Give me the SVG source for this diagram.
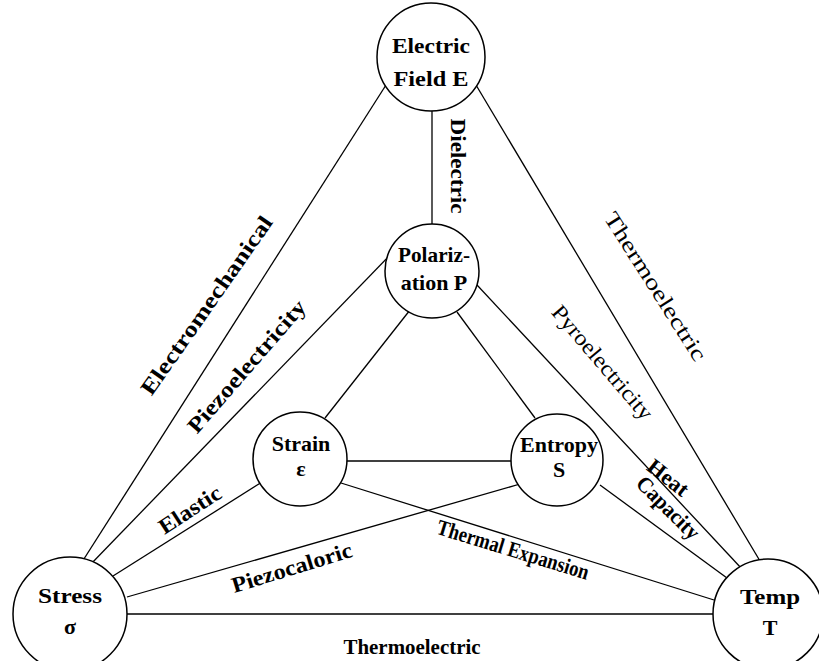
<svg xmlns="http://www.w3.org/2000/svg" width="819" height="661" viewBox="0 0 819 661">
<style>
.n{fill:#fff;stroke:#000;stroke-width:1.5}
.e{stroke:#000;stroke-width:1.3;fill:none}
.t{font-family:"Liberation Serif","Times New Roman",serif;font-weight:bold;font-size:22px;text-anchor:middle;fill:#000}
.r{font-weight:normal}
</style>
<rect width="819" height="661" fill="#fff"/>
<g id="connectors">
<line class="e" x1="386" y1="85" x2="82" y2="562"/>
<line class="e" x1="476" y1="85" x2="760" y2="561"/>
<line class="e" x1="432" y1="111" x2="432" y2="225"/>
<line class="e" x1="392" y1="253" x2="90" y2="565"/>
<line class="e" x1="477" y1="285" x2="742" y2="569"/>
<line class="e" x1="410" y1="310" x2="325" y2="418"/>
<line class="e" x1="457" y1="312" x2="535" y2="418"/>
<line class="e" x1="347" y1="461" x2="512" y2="461"/>
<line class="e" x1="262" y1="482" x2="113" y2="576"/>
<line class="e" x1="520" y1="484" x2="127" y2="597"/>
<line class="e" x1="341" y1="483" x2="714" y2="600"/>
<line class="e" x1="600" y1="485" x2="727" y2="578"/>
<line class="e" x1="127" y1="614" x2="713" y2="614"/>
</g>
<g id="edge-labels">
<text class="t" transform="translate(206,305) rotate(-55)" y="8" font-size="25" textLength="213" lengthAdjust="spacingAndGlyphs">Electromechanical</text>
<text class="t" transform="translate(246,366) rotate(-49)" y="8" font-size="24" textLength="168" lengthAdjust="spacingAndGlyphs">Piezoelectricity</text>
<text class="t r" transform="translate(656,286) rotate(57.6)" y="8" font-size="25" textLength="172" lengthAdjust="spacingAndGlyphs">Thermoelectric</text>
<text class="t r" transform="translate(603,362) rotate(49.5)" y="8" font-size="24" textLength="143" lengthAdjust="spacingAndGlyphs">Pyroelectricity</text>
<text class="t" transform="translate(459,166) rotate(90)" y="8" font-size="23" textLength="95" lengthAdjust="spacingAndGlyphs">Dielectric</text>
<text class="t" transform="translate(190,510) rotate(-33)" y="7" textLength="70" lengthAdjust="spacingAndGlyphs">Elastic</text>
<text class="t" transform="translate(292,568) rotate(-17)" y="7" textLength="125" lengthAdjust="spacingAndGlyphs">Piezocaloric</text>
<text class="t" transform="translate(513,550) rotate(17)" y="7" textLength="158" lengthAdjust="spacingAndGlyphs">Thermal Expansion</text>
<text class="t" transform="translate(668,478) rotate(38)" y="7" textLength="46" lengthAdjust="spacingAndGlyphs">Heat</text>
<text class="t" transform="translate(668,508) rotate(45)" y="7" textLength="80" lengthAdjust="spacingAndGlyphs">Capacity</text>
<text class="t" x="412" y="654" font-size="26" textLength="137" lengthAdjust="spacingAndGlyphs">Thermoelectric</text>
</g>
<g id="node-E">
<circle class="n" cx="431" cy="57" r="54"/>
<text class="t" x="431" y="53" font-size="28" textLength="78" lengthAdjust="spacingAndGlyphs">Electric</text>
<text class="t" x="431" y="86" font-size="28" textLength="75" lengthAdjust="spacingAndGlyphs">Field E</text>
</g>
<g id="node-P">
<circle class="n" cx="432" cy="271" r="47"/>
<text class="t" x="434" y="262" font-size="21" textLength="72" lengthAdjust="spacingAndGlyphs">Polariz-</text>
<text class="t" x="434" y="290" font-size="21">ation P</text>
</g>
<g id="node-strain">
<circle class="n" cx="300" cy="459" r="47"/>
<text class="t" x="301" y="451">Strain</text>
<text class="t" x="301" y="476">ε</text>
</g>
<g id="node-entropy">
<circle class="n" cx="557" cy="460" r="46"/>
<text class="t" x="559" y="452">Entropy</text>
<text class="t" x="559" y="477">S</text>
</g>
<g id="node-stress">
<circle class="n" cx="70" cy="614" r="57"/>
<text class="t" x="70" y="603" font-size="27" textLength="64" lengthAdjust="spacingAndGlyphs">Stress</text>
<text class="t" x="70" y="634" font-size="26">σ</text>
</g>
<g id="node-temp">
<circle class="n" cx="768" cy="614" r="55"/>
<text class="t" x="770" y="604" font-size="27" textLength="60" lengthAdjust="spacingAndGlyphs">Temp</text>
<text class="t" x="770" y="635" font-size="26">T</text>
</g>
</svg>
